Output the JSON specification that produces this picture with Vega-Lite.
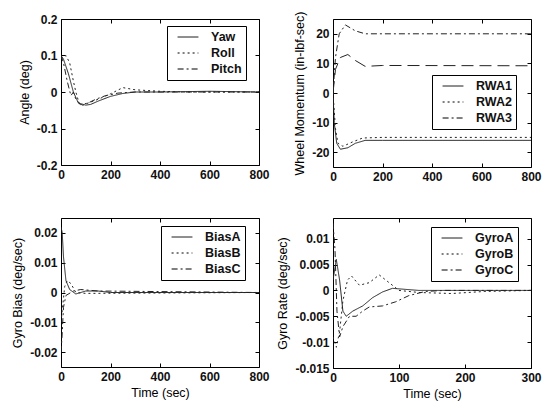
{
  "$schema": "https://vega.github.io/schema/vega-lite/v6.json",
  "background": "white",
  "padding": {"left": 11, "top": 10, "right": 5, "bottom": 5},
  "config": {
    "font": "Liberation Sans",
    "view": {"stroke": "black", "strokeWidth": 1},
    "axis": {
      "grid": false, "domain": false, "tickColor": "black", "tickSize": -4,
      "labelPadding": 8, "labelFontSize": 12, "labelFontWeight": "bold", "labelColor": "#111",
      "titleFontSize": 12.5, "titleFontWeight": "normal", "titleColor": "black",
      "labelFlush": false, "labelExpr": "'' + datum.value"
    },
    "axisY": {"titlePadding": 5},
    "legend": {
      "orient": "none", "title": null, "fillColor": "white", "strokeColor": "black",
      "padding": 4, "symbolType": "M-1.6,0H1.6", "symbolSize": 169, "symbolStrokeWidth": 1,
      "symbolStrokeColor": "black", "labelFontSize": 12.5, "labelFontWeight": "bold", "labelColor": "#111",
      "labelAlign": "left", "labelOffset": 16, "rowPadding": 2, "symbolOffset": 10
    },
    "line": {"color": "#222", "strokeWidth": 1}
  },
  "datasets": {
    "d": [
      {"panel": "angle", "series": "Yaw", "t": 0, "v": 0.1},
      {"panel": "angle", "series": "Yaw", "t": 10, "v": 0.09},
      {"panel": "angle", "series": "Yaw", "t": 30, "v": 0.05},
      {"panel": "angle", "series": "Yaw", "t": 50, "v": 0.0},
      {"panel": "angle", "series": "Yaw", "t": 70, "v": -0.03},
      {"panel": "angle", "series": "Yaw", "t": 100, "v": -0.036},
      {"panel": "angle", "series": "Yaw", "t": 120, "v": -0.034},
      {"panel": "angle", "series": "Yaw", "t": 150, "v": -0.025},
      {"panel": "angle", "series": "Yaw", "t": 200, "v": -0.012},
      {"panel": "angle", "series": "Yaw", "t": 250, "v": -0.004},
      {"panel": "angle", "series": "Yaw", "t": 300, "v": 0},
      {"panel": "angle", "series": "Yaw", "t": 400, "v": 0},
      {"panel": "angle", "series": "Yaw", "t": 600, "v": 0.002},
      {"panel": "angle", "series": "Yaw", "t": 800, "v": 0},
      {"panel": "angle", "series": "Roll", "t": 0, "v": 0.09},
      {"panel": "angle", "series": "Roll", "t": 20, "v": 0.1},
      {"panel": "angle", "series": "Roll", "t": 35, "v": 0.08},
      {"panel": "angle", "series": "Roll", "t": 50, "v": 0.03},
      {"panel": "angle", "series": "Roll", "t": 60, "v": 0.0},
      {"panel": "angle", "series": "Roll", "t": 75, "v": -0.035},
      {"panel": "angle", "series": "Roll", "t": 90, "v": -0.036},
      {"panel": "angle", "series": "Roll", "t": 110, "v": -0.03},
      {"panel": "angle", "series": "Roll", "t": 150, "v": -0.02},
      {"panel": "angle", "series": "Roll", "t": 200, "v": -0.005},
      {"panel": "angle", "series": "Roll", "t": 250, "v": 0.012},
      {"panel": "angle", "series": "Roll", "t": 300, "v": 0.006},
      {"panel": "angle", "series": "Roll", "t": 400, "v": 0.002},
      {"panel": "angle", "series": "Roll", "t": 500, "v": 0},
      {"panel": "angle", "series": "Roll", "t": 800, "v": 0},
      {"panel": "angle", "series": "Pitch", "t": 0, "v": 0.1},
      {"panel": "angle", "series": "Pitch", "t": 10, "v": 0.08},
      {"panel": "angle", "series": "Pitch", "t": 25, "v": 0.03},
      {"panel": "angle", "series": "Pitch", "t": 40, "v": -0.01},
      {"panel": "angle", "series": "Pitch", "t": 50, "v": 0.0},
      {"panel": "angle", "series": "Pitch", "t": 60, "v": -0.02},
      {"panel": "angle", "series": "Pitch", "t": 80, "v": -0.035},
      {"panel": "angle", "series": "Pitch", "t": 110, "v": -0.03},
      {"panel": "angle", "series": "Pitch", "t": 140, "v": -0.02},
      {"panel": "angle", "series": "Pitch", "t": 180, "v": -0.01},
      {"panel": "angle", "series": "Pitch", "t": 230, "v": -0.003},
      {"panel": "angle", "series": "Pitch", "t": 300, "v": 0},
      {"panel": "angle", "series": "Pitch", "t": 800, "v": 0},

      {"panel": "wheel", "series": "RWA1", "t": 0, "v": 0},
      {"panel": "wheel", "series": "RWA1", "t": 5, "v": -10},
      {"panel": "wheel", "series": "RWA1", "t": 15, "v": -17},
      {"panel": "wheel", "series": "RWA1", "t": 30, "v": -19},
      {"panel": "wheel", "series": "RWA1", "t": 60, "v": -18.5},
      {"panel": "wheel", "series": "RWA1", "t": 90, "v": -17},
      {"panel": "wheel", "series": "RWA1", "t": 130, "v": -16},
      {"panel": "wheel", "series": "RWA1", "t": 200, "v": -16},
      {"panel": "wheel", "series": "RWA1", "t": 800, "v": -16},
      {"panel": "wheel", "series": "RWA2", "t": 0, "v": 0},
      {"panel": "wheel", "series": "RWA2", "t": 10, "v": -12},
      {"panel": "wheel", "series": "RWA2", "t": 20, "v": -17},
      {"panel": "wheel", "series": "RWA2", "t": 40, "v": -18},
      {"panel": "wheel", "series": "RWA2", "t": 80, "v": -16.5},
      {"panel": "wheel", "series": "RWA2", "t": 120, "v": -15.2},
      {"panel": "wheel", "series": "RWA2", "t": 200, "v": -15},
      {"panel": "wheel", "series": "RWA2", "t": 800, "v": -15},
      {"panel": "wheel", "series": "RWA3", "t": 0, "v": 0},
      {"panel": "wheel", "series": "RWA3", "t": 10, "v": 12},
      {"panel": "wheel", "series": "RWA3", "t": 25, "v": 20},
      {"panel": "wheel", "series": "RWA3", "t": 50, "v": 23},
      {"panel": "wheel", "series": "RWA3", "t": 90, "v": 21},
      {"panel": "wheel", "series": "RWA3", "t": 130, "v": 20},
      {"panel": "wheel", "series": "RWA3", "t": 800, "v": 20},
      {"panel": "wheel", "series": "RWA4", "t": 0, "v": 0},
      {"panel": "wheel", "series": "RWA4", "t": 10, "v": 8},
      {"panel": "wheel", "series": "RWA4", "t": 30, "v": 12},
      {"panel": "wheel", "series": "RWA4", "t": 60, "v": 13},
      {"panel": "wheel", "series": "RWA4", "t": 90, "v": 11},
      {"panel": "wheel", "series": "RWA4", "t": 130, "v": 9},
      {"panel": "wheel", "series": "RWA4", "t": 200, "v": 9.3},
      {"panel": "wheel", "series": "RWA4", "t": 800, "v": 9.2},

      {"panel": "bias", "series": "BiasA", "t": 0, "v": 0.022},
      {"panel": "bias", "series": "BiasA", "t": 5, "v": 0.02},
      {"panel": "bias", "series": "BiasA", "t": 10, "v": 0.012},
      {"panel": "bias", "series": "BiasA", "t": 20, "v": 0.004},
      {"panel": "bias", "series": "BiasA", "t": 35, "v": 0.001},
      {"panel": "bias", "series": "BiasA", "t": 60, "v": -0.0005},
      {"panel": "bias", "series": "BiasA", "t": 100, "v": 0.0005},
      {"panel": "bias", "series": "BiasA", "t": 150, "v": 0.0005},
      {"panel": "bias", "series": "BiasA", "t": 200, "v": 0},
      {"panel": "bias", "series": "BiasA", "t": 800, "v": 0},
      {"panel": "bias", "series": "BiasB", "t": 0, "v": -0.01},
      {"panel": "bias", "series": "BiasB", "t": 5, "v": -0.006},
      {"panel": "bias", "series": "BiasB", "t": 15, "v": 0.002},
      {"panel": "bias", "series": "BiasB", "t": 25, "v": 0.004},
      {"panel": "bias", "series": "BiasB", "t": 40, "v": 0.003},
      {"panel": "bias", "series": "BiasB", "t": 60, "v": 0.0},
      {"panel": "bias", "series": "BiasB", "t": 100, "v": -0.0003},
      {"panel": "bias", "series": "BiasB", "t": 800, "v": 0},
      {"panel": "bias", "series": "BiasC", "t": 0, "v": -0.02},
      {"panel": "bias", "series": "BiasC", "t": 4, "v": -0.015},
      {"panel": "bias", "series": "BiasC", "t": 10, "v": -0.005},
      {"panel": "bias", "series": "BiasC", "t": 20, "v": -0.001},
      {"panel": "bias", "series": "BiasC", "t": 50, "v": 0.0005},
      {"panel": "bias", "series": "BiasC", "t": 80, "v": 0.001},
      {"panel": "bias", "series": "BiasC", "t": 150, "v": 0.0005},
      {"panel": "bias", "series": "BiasC", "t": 800, "v": 0},

      {"panel": "rate", "series": "GyroA", "t": 0, "v": 0.002},
      {"panel": "rate", "series": "GyroA", "t": 5, "v": 0.006},
      {"panel": "rate", "series": "GyroA", "t": 10, "v": 0.002},
      {"panel": "rate", "series": "GyroA", "t": 15, "v": -0.004},
      {"panel": "rate", "series": "GyroA", "t": 20, "v": -0.005},
      {"panel": "rate", "series": "GyroA", "t": 30, "v": -0.004},
      {"panel": "rate", "series": "GyroA", "t": 45, "v": -0.003},
      {"panel": "rate", "series": "GyroA", "t": 60, "v": -0.0014},
      {"panel": "rate", "series": "GyroA", "t": 75, "v": -0.0003},
      {"panel": "rate", "series": "GyroA", "t": 90, "v": 0.0004},
      {"panel": "rate", "series": "GyroA", "t": 110, "v": 0.0002},
      {"panel": "rate", "series": "GyroA", "t": 130, "v": 0},
      {"panel": "rate", "series": "GyroA", "t": 300, "v": 0},
      {"panel": "rate", "series": "GyroB", "t": 0, "v": -0.009},
      {"panel": "rate", "series": "GyroB", "t": 5, "v": -0.011},
      {"panel": "rate", "series": "GyroB", "t": 10, "v": -0.008},
      {"panel": "rate", "series": "GyroB", "t": 15, "v": -0.002},
      {"panel": "rate", "series": "GyroB", "t": 22, "v": 0.002},
      {"panel": "rate", "series": "GyroB", "t": 28, "v": 0.0028},
      {"panel": "rate", "series": "GyroB", "t": 40, "v": 0.001},
      {"panel": "rate", "series": "GyroB", "t": 55, "v": 0.0015},
      {"panel": "rate", "series": "GyroB", "t": 70, "v": 0.003},
      {"panel": "rate", "series": "GyroB", "t": 85, "v": 0.0015},
      {"panel": "rate", "series": "GyroB", "t": 100, "v": 0},
      {"panel": "rate", "series": "GyroB", "t": 130, "v": -0.0004},
      {"panel": "rate", "series": "GyroB", "t": 180, "v": -0.0006},
      {"panel": "rate", "series": "GyroB", "t": 230, "v": -0.0002},
      {"panel": "rate", "series": "GyroB", "t": 300, "v": 0},
      {"panel": "rate", "series": "GyroC", "t": 0, "v": 0.013},
      {"panel": "rate", "series": "GyroC", "t": 3, "v": 0.008},
      {"panel": "rate", "series": "GyroC", "t": 6, "v": -0.004},
      {"panel": "rate", "series": "GyroC", "t": 10, "v": -0.009},
      {"panel": "rate", "series": "GyroC", "t": 15, "v": -0.007},
      {"panel": "rate", "series": "GyroC", "t": 25, "v": -0.005},
      {"panel": "rate", "series": "GyroC", "t": 35, "v": -0.005},
      {"panel": "rate", "series": "GyroC", "t": 45, "v": -0.004},
      {"panel": "rate", "series": "GyroC", "t": 55, "v": -0.0032},
      {"panel": "rate", "series": "GyroC", "t": 75, "v": -0.003},
      {"panel": "rate", "series": "GyroC", "t": 95, "v": -0.0022},
      {"panel": "rate", "series": "GyroC", "t": 115, "v": -0.001},
      {"panel": "rate", "series": "GyroC", "t": 140, "v": -0.0002},
      {"panel": "rate", "series": "GyroC", "t": 170, "v": 0},
      {"panel": "rate", "series": "GyroC", "t": 300, "v": 0}
    ]
  },
  "columns": 2,
  "spacing": {"column": 6, "row": 34},
  "resolve": {"scale": {"strokeDash": "independent", "x": "independent", "y": "independent"}, "legend": {"strokeDash": "independent"}},
  "concat": [
    {
      "width": 198, "height": 146,
      "data": {"name": "d"},
      "transform": [{"filter": "datum.panel === 'angle'"}],
      "resolve": {"axis": {"x": "independent", "y": "independent"}},
      "layer": [
        {
          "mark": {"type": "line", "clip": true},
          "encoding": {
            "x": {"field": "t", "type": "quantitative", "scale": {"domain": [0, 800], "nice": false}, "axis": {"title": null, "values": [0, 200, 400, 600, 800]}},
            "y": {"field": "v", "type": "quantitative", "scale": {"domain": [-0.2, 0.2], "nice": false}, "axis": {"title": "Angle (deg)", "values": [-0.2, -0.1, 0, 0.1, 0.2]}},
            "strokeDash": {"field": "series", "type": "nominal", "scale": {"domain": ["Yaw", "Roll", "Pitch"], "range": [[1, 0], [2, 3], [6, 3, 2, 3]]}, "legend": {"legendX": 106, "legendY": 7}}
          }
        },
        {
          "mark": {"type": "point", "opacity": 0, "size": 1},
          "encoding": {
            "x": {"field": "t", "type": "quantitative", "axis": {"orient": "top", "title": null, "labels": false, "values": [0, 200, 400, 600, 800]}},
            "y": {"field": "v", "type": "quantitative", "axis": {"orient": "right", "title": null, "labels": false, "values": [-0.2, -0.1, 0, 0.1, 0.2]}}
          }
        }
      ]
    },
    {
      "width": 198, "height": 148,
      "data": {"name": "d"},
      "transform": [{"filter": "datum.panel === 'wheel'"}],
      "resolve": {"axis": {"x": "independent", "y": "independent"}},
      "layer": [
        {
          "mark": {"type": "line", "clip": true},
          "encoding": {
            "x": {"field": "t", "type": "quantitative", "scale": {"domain": [0, 800], "nice": false}, "axis": {"title": null, "values": [0, 200, 400, 600, 800]}},
            "y": {"field": "v", "type": "quantitative", "scale": {"domain": [-25, 25], "nice": false}, "axis": {"title": "Wheel Momentum (in-lbf-sec)", "values": [-20, -10, 0, 10, 20]}},
            "strokeDash": {"field": "series", "type": "nominal", "scale": {"domain": ["RWA1", "RWA2", "RWA3", "RWA4"], "range": [[1, 0], [2, 3], [6, 3, 2, 3], [12, 6]]}, "legend": {"values": ["RWA1", "RWA2", "RWA3"], "legendX": 99, "legendY": 56}}
          }
        },
        {
          "mark": {"type": "point", "opacity": 0, "size": 1},
          "encoding": {
            "x": {"field": "t", "type": "quantitative", "axis": {"orient": "top", "title": null, "labels": false, "values": [0, 200, 400, 600, 800]}},
            "y": {"field": "v", "type": "quantitative", "axis": {"orient": "right", "title": null, "labels": false, "values": [-20, -10, 0, 10, 20]}}
          }
        }
      ]
    },
    {
      "width": 198, "height": 149,
      "data": {"name": "d"},
      "transform": [{"filter": "datum.panel === 'bias'"}],
      "resolve": {"axis": {"x": "independent", "y": "independent"}},
      "layer": [
        {
          "mark": {"type": "line", "clip": true},
          "encoding": {
            "x": {"field": "t", "type": "quantitative", "scale": {"domain": [0, 800], "nice": false}, "axis": {"title": "Time (sec)", "values": [0, 200, 400, 600, 800]}},
            "y": {"field": "v", "type": "quantitative", "scale": {"domain": [-0.025, 0.025], "nice": false}, "axis": {"title": "Gyro Bias (deg/sec)", "values": [-0.02, -0.01, 0, 0.01, 0.02]}},
            "strokeDash": {"field": "series", "type": "nominal", "scale": {"domain": ["BiasA", "BiasB", "BiasC"], "range": [[1, 0], [2, 3], [6, 3, 2, 3]]}, "legend": {"legendX": 100, "legendY": 8}}
          }
        },
        {
          "mark": {"type": "point", "opacity": 0, "size": 1},
          "encoding": {
            "x": {"field": "t", "type": "quantitative", "axis": {"orient": "top", "title": null, "labels": false, "values": [0, 200, 400, 600, 800]}},
            "y": {"field": "v", "type": "quantitative", "axis": {"orient": "right", "title": null, "labels": false, "values": [-0.02, -0.01, 0, 0.01, 0.02]}}
          }
        }
      ]
    },
    {
      "width": 198, "height": 150,
      "data": {"name": "d"},
      "transform": [{"filter": "datum.panel === 'rate'"}],
      "resolve": {"axis": {"x": "independent", "y": "independent"}},
      "layer": [
        {
          "mark": {"type": "line", "clip": true},
          "encoding": {
            "x": {"field": "t", "type": "quantitative", "scale": {"domain": [0, 300], "nice": false}, "axis": {"title": "Time (sec)", "values": [0, 100, 200, 300]}},
            "y": {"field": "v", "type": "quantitative", "scale": {"domain": [-0.015, 0.014], "nice": false}, "axis": {"title": "Gyro Rate (deg/sec)", "values": [-0.015, -0.01, -0.005, 0, 0.005, 0.01]}},
            "strokeDash": {"field": "series", "type": "nominal", "scale": {"domain": ["GyroA", "GyroB", "GyroC"], "range": [[1, 0], [2, 3], [6, 3, 2, 3]]}, "legend": {"legendX": 98, "legendY": 9}}
          }
        },
        {
          "mark": {"type": "point", "opacity": 0, "size": 1},
          "encoding": {
            "x": {"field": "t", "type": "quantitative", "axis": {"orient": "top", "title": null, "labels": false, "values": [0, 100, 200, 300]}},
            "y": {"field": "v", "type": "quantitative", "axis": {"orient": "right", "title": null, "labels": false, "values": [-0.015, -0.01, -0.005, 0, 0.005, 0.01]}}
          }
        }
      ]
    }
  ]
}
